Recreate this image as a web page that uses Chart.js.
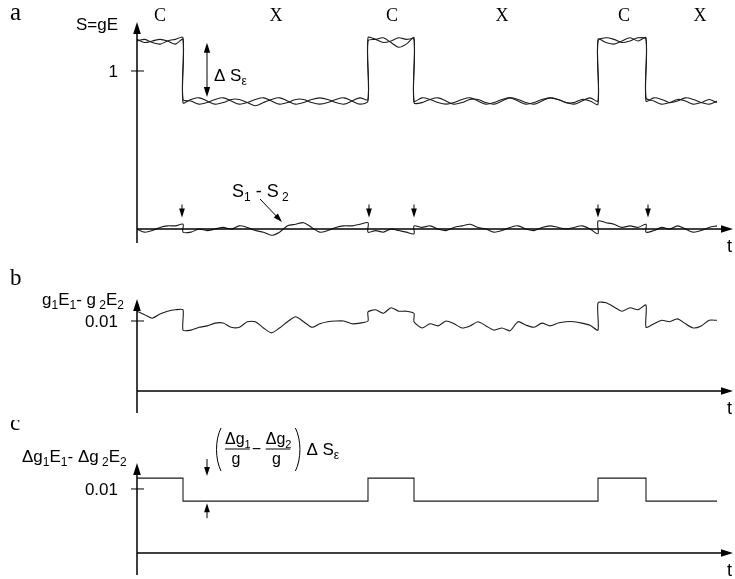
<!DOCTYPE html>
<html>
<head>
<meta charset="utf-8">
<script src="https://cdn.jsdelivr.net/npm/chart.js@4/dist/chart.umd.min.js"></script>
<style>
  html, body { margin: 0; padding: 0; background: #fff; }
  #wrap { position: relative; width: 735px; height: 579px; }
  canvas { position: absolute; left: 0; }
</style>
</head>
<body>
<div id="wrap">
  <canvas id="panelA" width="735" height="260" style="top:0"></canvas>
  <canvas id="panelB" width="735" height="160" style="top:260px"></canvas>
  <canvas id="panelC" width="735" height="159" style="top:420px"></canvas>
</div>
<script>
// phase boundaries (C = high, X = low) and end of the record
var switchTimes = [0, 0.92, 4.62, 5.54, 9.22, 10.18, 11.6];
var phaseLabels = ['C', 'X', 'C', 'X', 'C', 'X'];
var phaseLabelTimes = [0.46, 2.78, 5.1, 7.3, 9.74, 11.26];
var markTimes = [0.9, 4.64, 5.54, 9.22, 10.22];

// panel a: S = gE for the two channels, one array per phase
var s1Values = [
  [1.19, 1.20, 1.18, 1.17, 1.19, 1.20, 1.21],
  [0.80, 0.82, 0.83, 0.81, 0.79, 0.80, 0.82, 0.82, 0.80, 0.78, 0.80, 0.82, 0.83, 0.81, 0.79, 0.80, 0.82, 0.83, 0.82, 0.80, 0.79, 0.81, 0.83, 0.82],
  [1.21, 1.20, 1.18, 1.19, 1.21, 1.20, 1.20],
  [0.81, 0.83, 0.82, 0.80, 0.79, 0.80, 0.82, 0.83, 0.81, 0.79, 0.80, 0.82, 0.83, 0.81, 0.79, 0.80, 0.82, 0.83, 0.82, 0.80, 0.79, 0.81, 0.83, 0.81],
  [1.19, 1.21, 1.20, 1.18, 1.19, 1.21, 1.20],
  [0.81, 0.83, 0.82, 0.80, 0.81, 0.83, 0.82, 0.80, 0.79, 0.81]
];
var s2Values = [
  [1.20, 1.18, 1.19, 1.20, 1.19, 1.17, 1.20],
  [0.82, 0.81, 0.79, 0.80, 0.82, 0.83, 0.81, 0.79, 0.80, 0.82, 0.83, 0.81, 0.79, 0.80, 0.82, 0.82, 0.80, 0.79, 0.80, 0.82, 0.83, 0.81, 0.79, 0.81],
  [1.19, 1.20, 1.21, 1.18, 1.15, 1.17, 1.21],
  [0.80, 0.80, 0.82, 0.83, 0.81, 0.79, 0.80, 0.82, 0.82, 0.80, 0.79, 0.81, 0.83, 0.82, 0.80, 0.79, 0.81, 0.83, 0.82, 0.80, 0.80, 0.82, 0.81, 0.79],
  [1.20, 1.18, 1.17, 1.19, 1.21, 1.19, 1.21],
  [0.83, 0.81, 0.79, 0.80, 0.82, 0.81, 0.79, 0.80, 0.82, 0.80]
];
var diffValues = [
  [0.00, -0.02, -0.01, 0.01, 0.02, 0.02, 0.03],
  [-0.02, -0.02, 0.00, -0.01, 0.00, 0.01, 0.00, 0.02, 0.01, -0.01, -0.02, -0.04, -0.02, 0.02, 0.03, 0.04, 0.01, -0.02, -0.01, 0.01, 0.02, 0.02, 0.03, 0.04],
  [-0.02, -0.01, -0.02, 0.00, -0.01, -0.02, -0.03],
  [0.02, 0.01, 0.02, 0.00, -0.01, 0.01, 0.02, 0.03, 0.01, 0.00, -0.02, -0.01, 0.01, 0.02, 0.00, -0.01, 0.01, 0.02, 0.01, 0.00, 0.01, 0.02, 0.00, -0.03],
  [0.05, 0.04, 0.03, 0.01, 0.02, 0.01, 0.03],
  [-0.02, -0.01, 0.01, 0.00, 0.02, 0.00, -0.02, -0.01, 0.01, 0.02]
];

// panel b: g1E1 - g2E2
var gDiffValues = [
  [0.0114, 0.0109, 0.0104, 0.0110, 0.0114, 0.0116, 0.0116],
  [0.0087, 0.0087, 0.0091, 0.0093, 0.0097, 0.0097, 0.0091, 0.0091, 0.0099, 0.0099, 0.0090, 0.0083, 0.0090, 0.0099, 0.0106, 0.0099, 0.0091, 0.0096, 0.0099, 0.0100, 0.0100, 0.0096, 0.0097, 0.0100],
  [0.0113, 0.0116, 0.0111, 0.0119, 0.0114, 0.0114, 0.0111],
  [0.0099, 0.0090, 0.0096, 0.0093, 0.0100, 0.0096, 0.0090, 0.0093, 0.0099, 0.0093, 0.0087, 0.0090, 0.0086, 0.0099, 0.0094, 0.0091, 0.0097, 0.0093, 0.0097, 0.0099, 0.0099, 0.0097, 0.0094, 0.0087],
  [0.0126, 0.0126, 0.0120, 0.0114, 0.0119, 0.0116, 0.0123],
  [0.0091, 0.0096, 0.0101, 0.0099, 0.0103, 0.0096, 0.0090, 0.0093, 0.0101, 0.0101]
];

// panel c: Δg1E1 - Δg2E2, one level per phase
var cLevels = [0.0117, 0.0081, 0.0117, 0.0081, 0.0117, 0.0081];

var SANS = '"Liberation Sans", Arial, sans-serif';
var SERIF = '"Liberation Serif", "Times New Roman", serif';
var INK = '#1c1c1c';

// spread each phase's values over its time span
function toPoints(segments) {
  var pts = [];
  segments.forEach(function (seg, k) {
    var t0 = switchTimes[k], t1 = switchTimes[k + 1];
    seg.forEach(function (v, i) {
      pts.push({ x: t0 + (t1 - t0) * i / (seg.length - 1), y: v });
    });
  });
  return pts;
}

function trace(segments, tension) {
  return { data: toPoints(segments), borderColor: INK, borderWidth: 1.1, pointRadius: 0, tension: tension, fill: false };
}

function arrow(ctx, x1, y1, x2, y2, head) {
  var a = Math.atan2(y2 - y1, x2 - x1), c = Math.cos(a), s = Math.sin(a), w = head * 0.32;
  ctx.beginPath();
  ctx.moveTo(x1, y1);
  ctx.lineTo(x2 - c * head * 0.8, y2 - s * head * 0.8);
  ctx.stroke();
  ctx.beginPath();
  ctx.moveTo(x2, y2);
  ctx.lineTo(x2 - head * c + w * s, y2 - head * s - w * c);
  ctx.lineTo(x2 - head * c - w * s, y2 - head * s + w * c);
  ctx.closePath();
  ctx.fill();
}

// text with subscripts: parts = [[text, isSub], ...]
function rich(ctx, x, y, parts, size) {
  var subSize = Math.round(size * 0.68);
  ctx.textAlign = 'left';
  parts.forEach(function (p) {
    ctx.font = (p[1] ? subSize : size) + 'px ' + SANS;
    ctx.fillText(p[0], x, p[1] ? y + 4 : y);
    x += ctx.measureText(p[0]).width;
  });
  return x;
}

function drawAxes(chart, tickVal, tickText) {
  var ctx = chart.ctx, xs = chart.scales.x, ys = chart.scales.y, area = chart.chartArea;
  var x0 = xs.getPixelForValue(0), y0 = ys.getPixelForValue(0), yt = ys.getPixelForValue(tickVal);
  ctx.fillStyle = '#000';
  ctx.strokeStyle = '#000';
  ctx.lineWidth = 1.5;
  arrow(ctx, x0, area.bottom, x0, area.top, 12);
  arrow(ctx, x0, y0, area.right, y0, 12);
  ctx.lineWidth = 1;
  ctx.beginPath();
  ctx.moveTo(x0 - 6, yt);
  ctx.lineTo(x0 + 7, yt);
  ctx.stroke();
  ctx.font = '17px ' + SANS;
  ctx.textBaseline = 'alphabetic';
  ctx.textAlign = 'right';
  ctx.fillText(tickText, x0 - 19, yt + 6);
  ctx.textAlign = 'left';
  ctx.font = '18px ' + SANS;
  ctx.fillText('t', area.right - 6, y0 + 23);
}

function decorA(chart) {
  var ctx = chart.ctx, xs = chart.scales.x, ys = chart.scales.y, area = chart.chartArea;
  var X = function (t) { return xs.getPixelForValue(t); };
  var Y = function (v) { return ys.getPixelForValue(v); };
  ctx.save();
  drawAxes(chart, 1, '1');
  ctx.font = '25px ' + SERIF;
  ctx.fillText('a', 10, area.top - 2);
  ctx.font = '17px ' + SANS;
  ctx.fillText('S=gE', X(0) - 61, area.top + 8);
  ctx.font = '18px ' + SERIF;
  ctx.textAlign = 'center';
  phaseLabels.forEach(function (s, i) { ctx.fillText(s, X(phaseLabelTimes[i]), area.top - 1); });
  ctx.lineWidth = 1;
  markTimes.forEach(function (t) { arrow(ctx, X(t), Y(0.155), X(t), Y(0.072), 9); });
  rich(ctx, X(1.9), Y(0.2), [['S', 0], ['1', 1], [' - S', 0], [' 2', 1]], 18);
  arrow(ctx, X(2.46), Y(0.19), X(2.9), Y(0.044), 9);
  arrow(ctx, X(1.4), Y(1.0), X(1.4), Y(1.178), 10);
  arrow(ctx, X(1.4), Y(1.0), X(1.4), Y(0.835), 10);
  rich(ctx, X(1.54), Y(0.937), [['\u0394 S', 0], ['\u03b5', 1]], 17);
  ctx.restore();
}

function decorB(chart) {
  var ctx = chart.ctx, xs = chart.scales.x, area = chart.chartArea;
  ctx.save();
  drawAxes(chart, 0.01, '0.01');
  ctx.font = '23px ' + SERIF;
  ctx.fillText('b', 10, area.top - 14);
  rich(ctx, xs.getPixelForValue(0) - 95, area.top + 6,
    [['g', 0], ['1', 1], ['E', 0], ['1', 1], ['- g', 0], [' 2', 1], ['E', 0], ['2', 1]], 17);
  ctx.restore();
}

function fraction(ctx, x, nb, barY, db, sub) {
  var e = rich(ctx, x, nb, [['\u0394g', 0], [sub, 1]], 16);
  ctx.beginPath();
  ctx.moveTo(x, barY);
  ctx.lineTo(e - 1, barY);
  ctx.stroke();
  ctx.font = '16px ' + SANS;
  ctx.textAlign = 'center';
  ctx.fillText('g', (x + e) / 2 - 2, db);
  ctx.textAlign = 'left';
  return e;
}

function decorC(chart) {
  var ctx = chart.ctx, xs = chart.scales.x, ys = chart.scales.y, area = chart.chartArea;
  var ax = xs.getPixelForValue(1.4), hi = ys.getPixelForValue(cLevels[0]), lo = ys.getPixelForValue(cLevels[1]);
  ctx.save();
  drawAxes(chart, 0.01, '0.01');
  ctx.font = '23px ' + SERIF;
  ctx.fillText('c', 10, area.top - 33);
  rich(ctx, xs.getPixelForValue(0) - 115, area.top - 1,
    [['\u0394g', 0], ['1', 1], ['E', 0], ['1', 1], ['- \u0394g', 0], [' 2', 1], ['E', 0], ['2', 1]], 17);
  ctx.lineWidth = 1;
  arrow(ctx, ax, hi - 19, ax, hi - 2, 9);
  arrow(ctx, ax, lo + 17, ax, lo + 2, 9);
  var top = area.top - 35, bot = area.top + 8;
  var px = ax + 9;
  ctx.beginPath();
  ctx.moveTo(px + 5, top);
  ctx.bezierCurveTo(px - 1, top + 12, px - 1, bot - 12, px + 5, bot);
  ctx.stroke();
  var nb = area.top - 19, barY = area.top - 14, db = area.top + 1;
  var e1 = fraction(ctx, px + 9, nb, barY, db, '1');
  ctx.font = '16px ' + SANS;
  ctx.fillText('\u2212', e1 + 1, barY + 5);
  var e2 = fraction(ctx, e1 + 15, nb, barY, db, '2');
  var qx = e2 + 4;
  ctx.beginPath();
  ctx.moveTo(qx, top);
  ctx.bezierCurveTo(qx + 6, top + 12, qx + 6, bot - 12, qx, bot);
  ctx.stroke();
  rich(ctx, qx + 11, area.top - 8, [['\u0394 S', 0], ['\u03b5', 1]], 17);
  ctx.restore();
}

function makePanel(id, datasets, yMin, yMax, pad, decorate) {
  return new Chart(document.getElementById(id).getContext('2d'), {
    type: 'line',
    data: { datasets: datasets },
    options: {
      responsive: false,
      animation: false,
      devicePixelRatio: 1,
      layout: { padding: pad },
      scales: {
        x: { type: 'linear', min: 0, max: 11.92, display: false },
        y: { type: 'linear', min: yMin, max: yMax, display: false }
      },
      plugins: { legend: { display: false }, tooltip: { enabled: false } }
    },
    plugins: [{ id: 'decor', afterDatasetsDraw: decorate }]
  });
}

makePanel('panelA',
  [trace(s1Values, 0.3), trace(s2Values, 0.3), trace(diffValues, 0.3)],
  -0.0886, 1.31, { left: 137, right: 2, top: 22, bottom: 17 }, decorA);

makePanel('panelB',
  [trace(gDiffValues, 0.22)],
  -0.00314, 0.01314, { left: 137, right: 2, top: 39, bottom: 7 }, decorB);

makePanel('panelC',
  [trace(cLevels.map(function (v) { return [v, v]; }), 0)],
  -0.00344, 0.01406, { left: 137, right: 2, top: 43, bottom: 4 }, decorC);
</script>
</body>
</html>
